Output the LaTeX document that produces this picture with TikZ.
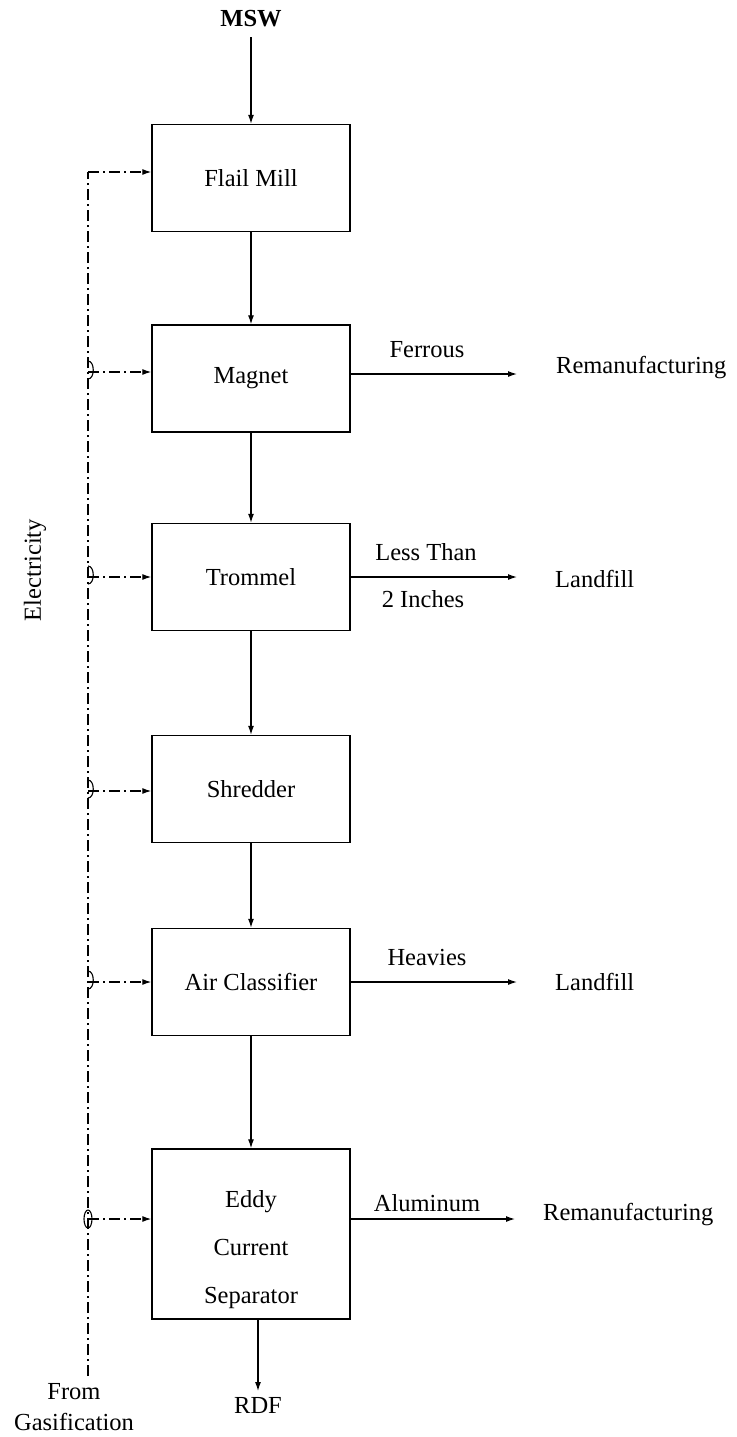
\documentclass[tikz,border=0pt]{standalone}
\usepackage{fontspec}
\setmainfont{Liberation Serif}
\usetikzlibrary{arrows.meta,calc}
\begin{document}
\begin{tikzpicture}[x=1pt,y=-1pt,
  txt/.style={font=\fontsize{24.5}{28}\selectfont, inner sep=0pt},
  unit/.style={draw, line width=1.4pt, minimum width=198pt, minimum height=107pt, inner sep=0pt, font=\fontsize{24.5}{28}\selectfont},
  flow/.style={line width=1.2pt, -{Latex[length=9pt,width=6pt]}},
  power/.style={line width=1.2pt, dash pattern=on 11pt off 4pt on 2pt off 4pt, -{Latex[length=9pt,width=6pt]}},
  busline/.style={line width=1.2pt, dash pattern=on 11pt off 4pt on 2pt off 4pt},
  hop/.style={line width=1.1pt}]
\useasboundingbox (0,0) rectangle (736,1437);

% process units
\node[unit] (flail)    at (251,178)   {Flail Mill};
\node[unit] (magnet)   at (251,378.5) {Magnet};
\node[unit] (trommel)  at (251,577)   {Trommel};
\node[unit] (shredder) at (251,789)   {Shredder};
\node[unit] (air)      at (251,982)   {Air Classifier};
\node[unit, minimum height=170pt] (eddy) at (251,1234) {};
\node[txt, align=center, font=\fontsize{24.5}{48}\selectfont] (eddytxt) at (251,1250) {Eddy\\Current\\Separator};

% feed and product
\node[txt, font=\fontsize{24.5}{28}\selectfont\bfseries] (msw) at (251,19) {MSW};
\node[txt] (rdf) at (258,1405) {RDF};
\coordinate (rdfend) at (258,1391);

% main material flow
\draw[flow] (msw.south -| flail.north) ++(0,10) coordinate (mswstart) -- (flail.north);
\draw[flow] (flail) -- (magnet);
\draw[flow] (magnet) -- (trommel);
\draw[flow] (trommel) -- (shredder);
\draw[flow] (shredder) -- (air);
\draw[flow] (air) -- (eddy);
\draw[flow] (eddy.south -| rdfend) -- (rdfend);

% side streams
\coordinate (feend) at (517,374);
\coordinate (trend) at (517,577);
\coordinate (heend) at (517,982);
\coordinate (alend) at (515,1219);
\draw[flow] (feend -| magnet.east) -- (feend);
\draw[flow] (trend -| trommel.east) -- (trend);
\draw[flow] (heend -| air.east) -- (heend);
\draw[flow] (alend -| eddy.east) -- (alend);

\node[txt] (ferrous) at (427,350) {Ferrous};
\node[txt, anchor=west] (reman1) at (556,368) {Remanufacturing};
\node[txt] (lessthan) at (426,552) {Less Than};
\node[txt] (inches) at (423,599) {2 Inches};
\node[txt, anchor=west] (landfill1) at (555,579) {Landfill};
\node[txt] (heavies) at (427,957) {Heavies};
\node[txt, anchor=west] (landfill2) at (555,982) {Landfill};
\node[txt] (alum) at (427,1203) {Aluminum};
\node[txt, anchor=west] (reman2) at (543,1215) {Remanufacturing};

% electricity supply bus
\coordinate (bustop) at (88,172);
\coordinate (busbot) at (88,1376);
\coordinate (j2) at (88,372);
\coordinate (j3) at (88,577);
\coordinate (j4) at (88,791);
\coordinate (j5) at (88,982);
\coordinate (j6) at (88,1219);
\draw[busline] (busbot) -- (bustop);
\draw[power] (bustop) -- (bustop -| flail.west);
\draw[power] (j2) -- (j2 -| magnet.west);
\draw[power] (j3) -- (j3 -| trommel.west);
\draw[power] (j4) -- (j4 -| shredder.west);
\draw[power] (j5) -- (j5 -| air.west);
\draw[power] (j6) -- (j6 -| eddy.west);
% line hops where the branches leave the bus
\foreach \j in {j2,j3,j4,j5}
  \draw[hop] ($(\j)+(0,-11)$) .. controls ($(\j)+(7,-11)$) and ($(\j)+(7,7)$) .. ($(\j)+(0,7)$);
\draw[hop] (j6) ellipse[x radius=4pt, y radius=9pt];

\node[txt, rotate=90] (elec) at (35,570) {Electricity};
\node[txt, align=center, font=\fontsize{24.5}{31}\selectfont] (gas) at (74,1407) {From\\Gasification};
\end{tikzpicture}
\end{document}
